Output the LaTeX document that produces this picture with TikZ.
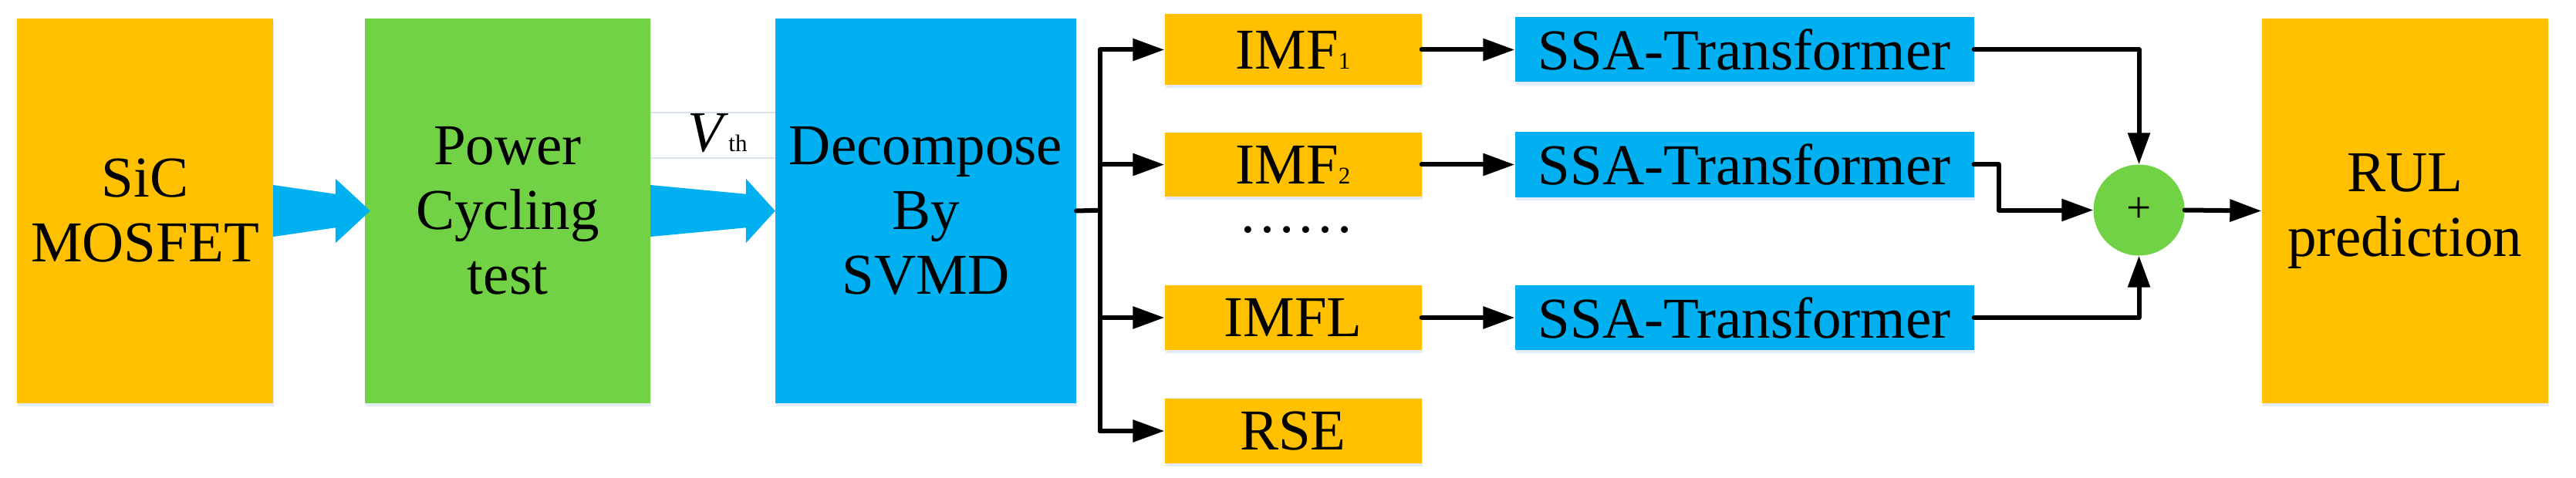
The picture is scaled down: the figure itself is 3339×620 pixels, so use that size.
\documentclass[tikz,border=0pt]{standalone}
\usepackage{fontspec}
\setmainfont{Liberation Serif}
\usetikzlibrary{arrows.meta,shadows,calc}
\definecolor{orng}{RGB}{255,192,0}
\definecolor{blu}{RGB}{0,176,240}
\definecolor{grn}{RGB}{112,210,68}
\definecolor{shd}{RGB}{175,200,235}
\definecolor{lgray}{RGB}{218,226,236}
\newcommand\smalltxt[1]{{\fontsize{31bp}{31bp}\selectfont #1}}
\newcommand\fatarr[3]{%
  \fill[blu] ($(#1.east)+(0,-33.5)$) -- ($(#2.west)+(-38,-21.8)$) -- ($(#2.west)+(-38,-41.8)$)
    -- ($(#2.west)+(#3,0)$) -- ($(#2.west)+(-38,41.8)$) -- ($(#2.west)+(-38,21.8)$)
    -- ($(#1.east)+(0,33.5)$) -- cycle;}
\begin{document}
\begin{tikzpicture}[x=1bp,y=-1bp,
  txt/.style={font=\fontsize{75bp}{84bp}\selectfont},
  box/.style={rectangle, inner sep=0pt, draw=none, align=center, txt,
    drop shadow={shadow xshift=1bp, shadow yshift=-4bp, fill=shd, opacity=0.35}},
  big/.style={box, minimum height=498bp},
  small/.style={box, minimum width=333bp},
  ssabox/.style={box, fill=blu, minimum width=595bp, minimum height=84bp},
  conn/.style={line width=6bp, line cap=round, line join=round},
  arr/.style={conn, -{Triangle[length=41bp,width=28bp]}}]
\useasboundingbox (0,0) rectangle (3339,620);
% main blocks
\node[big, fill=orng, minimum width=332bp] (sic) at (188,273.5) {SiC\\MOSFET};
\node[big, fill=grn, minimum width=370bp] (pc) at (658,273.5) {Power\\Cycling\\test};
\node[big, fill=blu, minimum width=390bp] (dec) at (1200,273.5) {Decompose\\By\\SVMD};
\node[big, fill=orng, minimum width=371bp] (rul) at (3117,273.5) {RUL\\prediction};
% IMF column
\node[small, fill=orng, minimum height=92bp] (imf1) at (1676,64.5) {IMF\smalltxt{1}};
\node[small, fill=orng, minimum height=83bp] (imf2) at (1676,213.5) {IMF\smalltxt{2}};
\node[txt, inner sep=0pt] (dots) at (1680,298) {……};
\node[small, fill=orng, minimum height=84bp] (imfl) at (1676,412) {IMFL};
\node[small, fill=orng, minimum height=84bp] (rse) at (1676,559) {RSE};
% SSA column
\node[ssabox] (ssa1) at (2261,64.3) {SSA-Transformer};
\node[ssabox] (ssa2) at (2261,213.5) {SSA-Transformer};
\node[ssabox] (ssa3) at (2261,412) {SSA-Transformer};
% sum
\node[circle, fill=grn, minimum size=118bp, inner sep=0pt, font=\fontsize{57bp}{57bp}\selectfont] (sum) at (2772.5,272.5) {+};
% Vth label
\node[txt, inner sep=0pt] (vth) at (930,173) {\textit{V}\smalltxt{th}};
\draw[lgray, line width=1.5bp] ($(pc.east|-vth)+(0,-27)$) -- ($(dec.west|-vth)+(0,-27)$);
\draw[lgray, line width=1.5bp] ($(pc.east|-vth)+(0,32)$) -- ($(dec.west|-vth)+(0,32)$);
% fat arrows
\fatarr{sic}{pc}{7}
\fatarr{pc}{dec}{0}
% distribution trunk
\coordinate (trunk) at (1426,272.7);
\draw[conn] (dec.east) -- (trunk);
\draw[conn] (trunk |- imf1.west) -- (trunk |- rse.west);
\foreach \n in {imf1,imf2,imfl,rse} \draw[arr] (trunk |- \n.west) -- (\n.west);
% IMF -> SSA
\draw[arr] (imf1.east) -- (imf1.east -| ssa1.west);
\draw[arr] (imf2.east) -- (imf2.east -| ssa2.west);
\draw[arr] (imfl.east) -- (imfl.east -| ssa3.west);
% SSA -> sum
\draw[arr] (ssa1.east) -| (sum.north);
\draw[arr] (ssa2.east) -- ++(32,0) |- (sum.west);
\draw[arr] (ssa3.east) -| (sum.south);
\draw[arr] (sum.east) -- (rul.west);
\end{tikzpicture}
\end{document}
